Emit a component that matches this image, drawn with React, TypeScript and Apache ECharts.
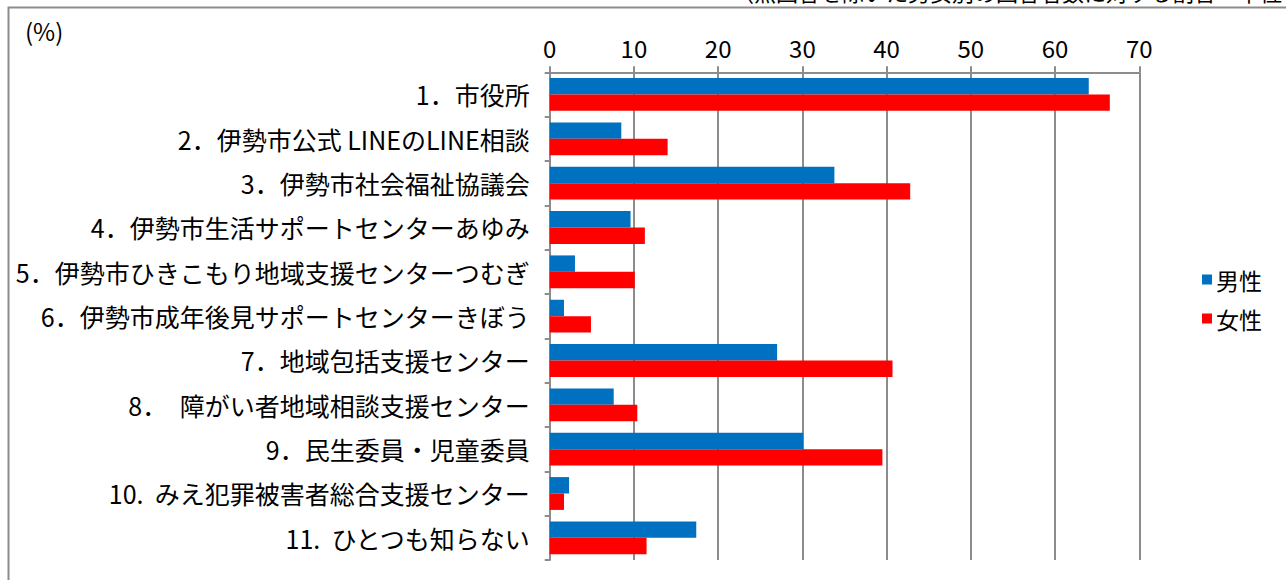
import React, { useEffect, useRef } from "react";
import * as echarts from "echarts";

const categories = [
  "1．市役所",
  "2．伊勢市公式 LINEのLINE相談",
  "3．伊勢市社会福祉協議会",
  "4．伊勢市生活サポートセンターあゆみ",
  "5．伊勢市ひきこもり地域支援センターつむぎ",
  "6．伊勢市成年後見サポートセンターきぼう",
  "7．地域包括支援センター",
  "8．　障がい者地域相談支援センター",
  "9．民生委員・児童委員",
  "10.  みえ犯罪被害者総合支援センター",
  "11.  ひとつも知らない",
];
const male = [64.0, 8.5, 33.8, 9.6, 3.0, 1.7, 27.0, 7.6, 30.1, 2.3, 17.4];
const female = [66.5, 14.0, 42.8, 11.3, 10.1, 4.9, 40.7, 10.4, 39.5, 1.7, 11.5];
const seriesNames = ["男性", "女性"];
const xTicks = { min: 0, max: 70, interval: 10 };

const FONT = "'Noto Sans CJK JP', 'Noto Sans', sans-serif";
const GREY = "#8c8c8c";

export default function App() {
  const ref = useRef<HTMLDivElement>(null);
  useEffect(() => {
    if (!ref.current) return;
    const chart = echarts.init(ref.current, undefined, { renderer: "svg" });
    chart.setOption({
      animation: false,
      textStyle: { fontFamily: FONT },
      grid: { left: 549.7, right: 146.7, top: 72.3, bottom: 20, containLabel: false },
      legend: {
        orient: "vertical",
        left: 1197,
        top: 263,
        itemWidth: 10,
        itemHeight: 10,
        itemGap: 16,
        icon: "rect",
        textStyle: { fontSize: 23, color: "#000", fontFamily: FONT, padding: [0, 0, 0, -1] },
        data: seriesNames,
      },
      xAxis: {
        type: "value",
        position: "top",
        min: xTicks.min,
        max: xTicks.max,
        interval: xTicks.interval,
        axisLine: { show: true, lineStyle: { color: GREY, width: 2 } },
        axisTick: { show: true, inside: false, length: 6, lineStyle: { color: GREY, width: 2 } },
        splitLine: { show: true, lineStyle: { color: GREY, width: 2 } },
        axisLabel: { fontSize: 24, color: "#000", margin: 13, fontFamily: FONT },
      },
      yAxis: {
        type: "category",
        inverse: true,
        data: categories,
        axisLine: { show: true, lineStyle: { color: GREY, width: 2 } },
        axisTick: { show: true, inside: false, length: 5, lineStyle: { color: GREY, width: 2 } },
        axisLabel: { fontSize: 25, color: "#000", margin: 20, fontFamily: FONT },
      },
      graphic: [
        {
          type: "rect",
          shape: { x: 8.5, y: 7.5, width: 1400, height: 700 },
          style: { fill: "none", stroke: GREY, lineWidth: 2 },
          silent: true,
          z: -10,
        },
        {
          type: "text",
          left: 25,
          top: 18,
          style: { text: "(%)", fontSize: 24, fill: "#000", fontFamily: FONT },
        },
        {
          type: "text",
          x: 732,
          y: -20,
          style: {
            text: "（無回答を除いた男女別の回答者数に対する割合・単位：%）",
            fontSize: 22,
            fill: "#000",
            fontFamily: FONT,
          },
        },
      ],
      series: [
        {
          name: seriesNames[0],
          type: "bar",
          data: male,
          itemStyle: { color: "#0070C0" },
          barGap: "0%",
          barCategoryGap: "26%",
        },
        {
          name: seriesNames[1],
          type: "bar",
          data: female,
          itemStyle: { color: "#FF0000" },
          barGap: "0%",
          barCategoryGap: "26%",
        },
      ],
    });
    return () => chart.dispose();
  }, []);
  return (
    <div
      ref={ref}
      style={{ position: "absolute", left: 0, top: 0, width: 1286, height: 580, background: "#fff" }}
    />
  );
}
